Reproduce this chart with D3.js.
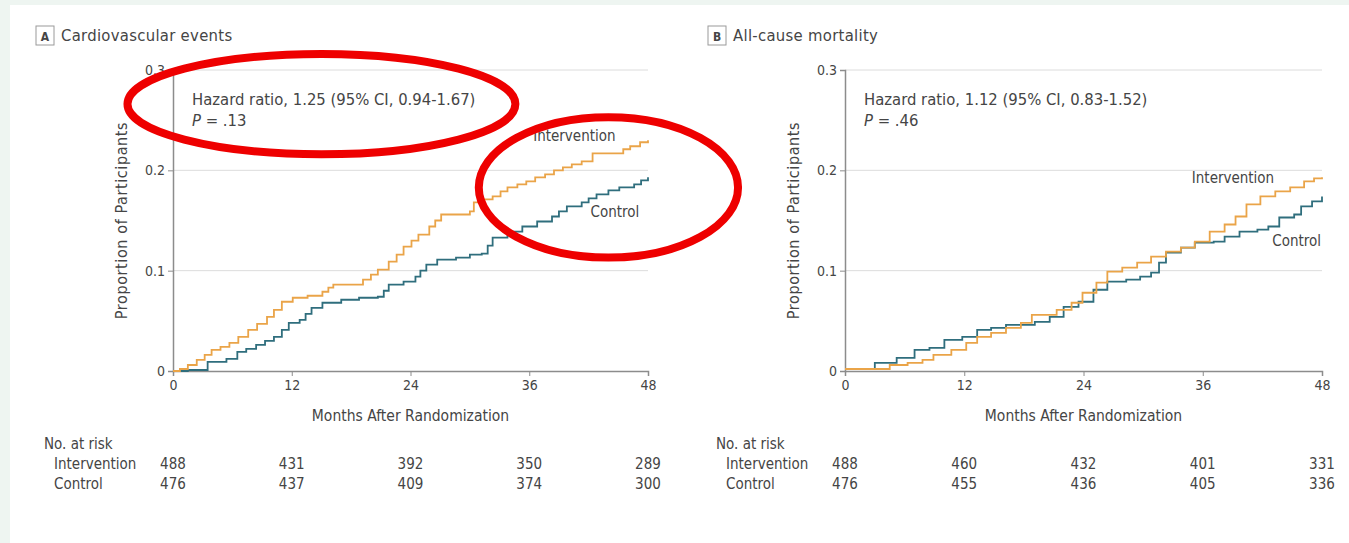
<!DOCTYPE html>
<html>
<head>
<meta charset="utf-8">
<script src="https://cdn.jsdelivr.net/npm/d3@7"></script>
<style>
  html, body { margin: 0; padding: 0; background: #eef5f1; }
  svg { display: block; }
  text { font-family: "Liberation Sans Narrow", "DejaVu Sans Condensed", "Roboto", sans-serif; fill: #454545; }
</style>
</head>
<body>
<svg width="1349" height="543"></svg>
<script>
// --- dados ---
const months = [0, 12, 24, 36, 48];
const yTicks = [0, 0.1, 0.2, 0.3];
const yTickLabels = ["0", "0.1", "0.2", "0.3"];

// painel A: eventos cardiovasculares [mês, proporção]
const cvIntervention = [
  [0, 0], [0.7, 0.002], [1.5, 0.006], [2.4, 0.011], [3.2, 0.016], [3.9, 0.021], [4.8, 0.024],
  [5.7, 0.028], [6.6, 0.034], [7.6, 0.041], [8.5, 0.047], [9.5, 0.054], [10.2, 0.061],
  [11, 0.069], [12.1, 0.073], [13.6, 0.075], [15.1, 0.079], [15.7, 0.083], [16.2, 0.086],
  [18.1, 0.086], [19.2, 0.091], [20, 0.096], [20.7, 0.101], [21.8, 0.109], [22.6, 0.116],
  [23.3, 0.124], [24.1, 0.130], [24.8, 0.136], [25.9, 0.144], [26.5, 0.150], [27.1, 0.156],
  [28.6, 0.156], [30, 0.159], [30.4, 0.168], [31.3, 0.171], [32.3, 0.174], [33.1, 0.179],
  [33.8, 0.183], [34.8, 0.186], [35.7, 0.189], [36.6, 0.193], [37.6, 0.196], [38.5, 0.200],
  [39.4, 0.203], [40.3, 0.206], [41.3, 0.209], [42.4, 0.217], [44.7, 0.217], [45.5, 0.221],
  [46.2, 0.224], [47.2, 0.228], [48, 0.230]
];
const cvControl = [
  [0, 0], [1.5, 0.001], [3.5, 0.009], [5.4, 0.012], [6.5, 0.019], [7.4, 0.022], [8.4, 0.026],
  [9.3, 0.030], [10.2, 0.034], [11, 0.041], [11.7, 0.048], [12.8, 0.051], [13.4, 0.057],
  [14, 0.063], [15.1, 0.068], [17, 0.071], [18.8, 0.073], [20.7, 0.074], [21.3, 0.080],
  [21.8, 0.086], [23.3, 0.089], [24.5, 0.094], [25, 0.100], [25.6, 0.106], [26.7, 0.111],
  [28.6, 0.113], [30, 0.116], [31.2, 0.117], [31.8, 0.125], [32.3, 0.133], [33.8, 0.139],
  [35.3, 0.144], [36.8, 0.149], [38.3, 0.154], [39, 0.159], [39.8, 0.164], [41.3, 0.168],
  [42, 0.172], [42.8, 0.176], [44, 0.180], [45.1, 0.183], [46.6, 0.186], [47.3, 0.190],
  [48, 0.193]
];

// painel B: mortalidade por todas as causas
const mortIntervention = [
  [0, 0.002], [2.6, 0.002], [4.5, 0.006], [6.3, 0.008], [7.8, 0.011], [8.9, 0.016],
  [10.7, 0.021], [12.2, 0.028], [13.3, 0.034], [14.7, 0.038], [16.2, 0.043], [17.7, 0.048],
  [18.8, 0.056], [20.2, 0.056], [21.3, 0.061], [22.8, 0.068], [23.9, 0.078], [25.3, 0.088],
  [26.4, 0.099], [27.9, 0.103], [29.4, 0.108], [30.8, 0.114], [32.3, 0.119], [33.8, 0.123],
  [35.2, 0.129], [36.7, 0.139], [38.2, 0.146], [39.3, 0.154], [40.4, 0.166], [41.8, 0.174],
  [43.3, 0.179], [44.8, 0.183], [46.2, 0.189], [47.2, 0.192], [48, 0.193]
];
const mortControl = [
  [0, 0.002], [2.2, 0.002], [3, 0.008], [5.2, 0.013], [7, 0.021], [8.5, 0.023], [10, 0.031],
  [11.8, 0.034], [13.3, 0.041], [14.7, 0.043], [16.2, 0.046], [17.7, 0.046], [19.1, 0.049],
  [20.6, 0.054], [22, 0.064], [23.5, 0.069], [25, 0.081], [26.4, 0.089], [28.3, 0.091],
  [29.7, 0.094], [30.8, 0.098], [31.6, 0.108], [32.3, 0.118], [33.8, 0.123], [35.2, 0.128],
  [37.1, 0.129], [38.2, 0.134], [39.7, 0.139], [41.5, 0.141], [42.6, 0.144], [43.7, 0.153],
  [45.2, 0.156], [45.9, 0.164], [47, 0.169], [48, 0.174]
];

// número em risco
const cvRiskIntervention = [488, 431, 392, 350, 289];
const cvRiskControl = [476, 437, 409, 374, 300];
const mortRiskIntervention = [488, 460, 432, 401, 331];
const mortRiskControl = [476, 455, 436, 405, 336];

const COLOR_INT = "#eaa448";
const COLOR_CTL = "#2f6e7d";

const svg = d3.select("svg");

// folha branca sobre o fundo
svg.append("rect")
  .attr("x", 10).attr("y", 5)
  .attr("width", 1349).attr("height", 543)
  .attr("fill", "#ffffff");

const panels = [
  {
    letter: "A", title: "Cardiovascular events",
    x0: 173, x1: 648,
    hr: "Hazard ratio, 1.25 (95% CI, 0.94-1.67)", p: ".13",
    intervention: cvIntervention, control: cvControl,
    riskInt: cvRiskIntervention, riskCtl: cvRiskControl,
    labInt: [36.4, 0.229], labCtl: [42.2, 0.153],
    ellipses: [
      { cx: 15.0, cy: 0.266, rx: 19.6, ry: 0.050 },
      { cx: 44.0, cy: 0.183, rx: 13.1, ry: 0.070 }
    ]
  },
  {
    letter: "B", title: "All-cause mortality",
    x0: 845, x1: 1322,
    hr: "Hazard ratio, 1.12 (95% CI, 0.83-1.52)", p: ".46",
    intervention: mortIntervention, control: mortControl,
    riskInt: mortRiskIntervention, riskCtl: mortRiskControl,
    labInt: [34.9, 0.187], labCtl: [43.0, 0.125],
    ellipses: []
  }
];

panels.forEach(p => {
  const x = d3.scaleLinear().domain([0, 48]).range([p.x0, p.x1]);
  const y = d3.scaleLinear().domain([0, 0.3]).range([371, 70]);
  const g = svg.append("g");

  // título do painel
  const boxX = p.x0 - 137;
  g.append("rect")
    .attr("x", boxX).attr("y", 26)
    .attr("width", 18).attr("height", 19)
    .attr("fill", "#fff")
    .attr("stroke", "#9a9a9a").attr("stroke-width", 1);
  g.append("text")
    .attr("x", boxX + 9).attr("y", 40.5)
    .attr("text-anchor", "middle")
    .style("font-size", "12px").style("font-weight", 700)
    .text(p.letter);
  g.append("text")
    .attr("x", boxX + 25).attr("y", 41)
    .style("font-size", "16.5px")
    .style("letter-spacing", "0.3px")
    .text(p.title);

  // linhas de grade
  g.selectAll(".grid")
    .data(yTicks.slice(1))
    .enter().append("line")
    .attr("x1", x(0)).attr("x2", x(48))
    .attr("y1", d => y(d)).attr("y2", d => y(d))
    .attr("stroke", "#dcdcdc").attr("stroke-width", 1);

  // eixos
  const ax = g.append("g")
    .attr("transform", `translate(0,${y(0)})`)
    .call(d3.axisBottom(x).tickValues(months).tickSize(5).tickPadding(4));
  const ay = g.append("g")
    .attr("transform", `translate(${x(0)},0)`)
    .call(d3.axisLeft(y).tickValues(yTicks).tickFormat((d, i) => yTickLabels[i]).tickSize(5).tickPadding(3));
  [ax, ay].forEach(a => {
    a.select(".domain").attr("stroke", "#8c8c8c").attr("stroke-width", 1.5);
    a.selectAll(".tick line").attr("stroke", "#8c8c8c");
    a.selectAll(".tick text")
      .style("font-size", "14px")
      .style("font-family", "\"Liberation Sans Narrow\", \"DejaVu Sans Condensed\", sans-serif")
      .attr("fill", "#454545");
  });

  g.append("text")
    .attr("transform", `translate(${x(0) - 46},${y(0.15)}) rotate(-90)`)
    .attr("text-anchor", "middle")
    .style("font-size", "16px")
    .style("letter-spacing", "0.6px")
    .text("Proportion of Participants");
  g.append("text")
    .attr("x", x(24)).attr("y", 421)
    .attr("text-anchor", "middle")
    .style("font-size", "15.5px")
    .text("Months After Randomization");

  // hazard ratio
  g.append("text")
    .attr("x", x(0) + 19).attr("y", 105)
    .style("font-size", "16.5px")
    .text(p.hr);
  const pt = g.append("text")
    .attr("x", x(0) + 19).attr("y", 126)
    .style("font-size", "16.5px");
  pt.append("tspan").style("font-style", "italic").text("P");
  pt.append("tspan").text(" = " + p.p);

  // curvas de Kaplan-Meier
  const line = d3.line()
    .x(d => x(d[0]))
    .y(d => y(d[1]))
    .curve(d3.curveStepAfter);
  [[p.control, COLOR_CTL], [p.intervention, COLOR_INT]].forEach(([data, color]) => {
    g.append("path")
      .datum(data)
      .attr("fill", "none")
      .attr("stroke", color)
      .attr("stroke-width", 1.8)
      .attr("d", line);
  });

  g.append("text")
    .attr("x", x(p.labInt[0])).attr("y", y(p.labInt[1]))
    .style("font-size", "15px")
    .text("Intervention");
  g.append("text")
    .attr("x", x(p.labCtl[0])).attr("y", y(p.labCtl[1]))
    .style("font-size", "15px")
    .text("Control");

  // tabela de número em risco
  const tx = x(0) - 129;
  g.append("text").attr("x", tx).attr("y", 449).style("font-size", "15px").text("No. at risk");
  g.append("text").attr("x", tx + 10).attr("y", 469).style("font-size", "15px").text("Intervention");
  g.append("text").attr("x", tx + 10).attr("y", 489).style("font-size", "15px").text("Control");
  [[p.riskInt, 469], [p.riskCtl, 489]].forEach(([vals, yy]) => {
    g.selectAll(null)
      .data(vals)
      .enter().append("text")
      .attr("x", (d, i) => x(months[i]))
      .attr("y", yy)
      .attr("text-anchor", "middle")
      .style("font-size", "15px")
      .text(d => d);
  });

  // anotações em vermelho
  g.selectAll(".mark")
    .data(p.ellipses)
    .enter().append("ellipse")
    .attr("cx", d => x(d.cx))
    .attr("cy", d => y(d.cy))
    .attr("rx", d => x(d.rx) - x(0))
    .attr("ry", d => y(0) - y(d.ry))
    .attr("fill", "none")
    .attr("stroke", "#ee0000")
    .attr("stroke-width", 8);
});
</script>
</body>
</html>
